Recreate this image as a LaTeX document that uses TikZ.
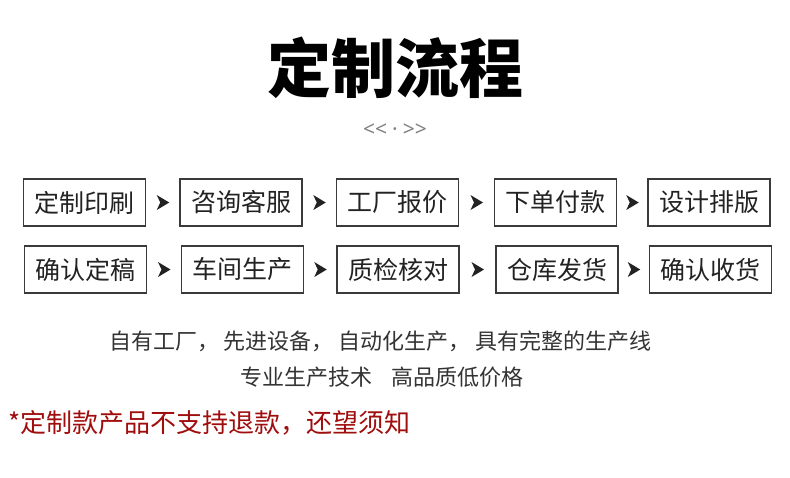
\documentclass[tikz,border=0pt]{standalone}
\usepackage{fontspec}
\setmainfont{Noto Sans CJK SC}
\newfontfamily\latinsans{Noto Sans}
\usetikzlibrary{calc}
\definecolor{boxline}{HTML}{3A3A3A}
\definecolor{boxtext}{HTML}{222222}
\definecolor{bodytext}{HTML}{333333}
\definecolor{subgray}{HTML}{808080}
\definecolor{warnred}{HTML}{A00D0D}
\newcommand\flowarrow[2]{\fill[boxtext] ($(#1.east)!0.5!(#2.west)$) +(6.5,0) -- +(-6,-7.5) -- +(-2.5,0) -- +(-6,7.5) -- cycle;}
\begin{document}
\begin{tikzpicture}[x=1pt,y=-1pt,
  stepbox/.style={draw=boxline, line width=1.4pt, minimum width=122pt, minimum height=47pt, inner sep=0pt, font=\fontsize{25}{25}\selectfont, text=boxtext},
  bodyline/.style={font=\fontsize{22}{22}\selectfont, text=bodytext, inner sep=0pt},
]
\useasboundingbox (0,0) rectangle (790,477);
\node[font=\fontsize{64}{64}\selectfont\bfseries, inner sep=0pt] (title) at (395,68) {定制流程};
\node[font=\fontsize{21}{21}\latinsans, text=subgray, inner sep=0pt] (sub) at (395,130) {{<}{<}\hspace{5pt}·\hspace{5pt}{>}{>}};
% row 1
\node[stepbox] (a1) at (84.5,202.5) {定制印刷};
\node[stepbox] (a2) at (241,202.5) {咨询客服};
\node[stepbox] (a3) at (397.5,202.5) {工厂报价};
\node[stepbox] (a4) at (555.5,202.5) {下单付款};
\node[stepbox] (a5) at (709,202.5) {设计排版};
% row 2
\node[stepbox] (b1) at (85.5,269.5) {确认定稿};
\node[stepbox] (b2) at (242.5,269.5) {车间生产};
\node[stepbox] (b3) at (398,269.5) {质检核对};
\node[stepbox] (b4) at (557,269.5) {仓库发货};
\node[stepbox] (b5) at (710.5,269.5) {确认收货};
\flowarrow{a1}{a2}
\flowarrow{a2}{a3}
\flowarrow{a3}{a4}
\flowarrow{a4}{a5}
\flowarrow{b1}{b2}
\flowarrow{b2}{b3}
\flowarrow{b3}{b4}
\flowarrow{b4}{b5}
\node[bodyline] (l1) at (380.5,341) {自有工厂，\hspace{5pt}先进设备，\hspace{5pt}自动化生产，\hspace{5pt}具有完整的生产线};
\node[bodyline] (l2) at (382,377) {专业生产技术\hspace{20pt}高品质低价格};
\node[font=\fontsize{26}{26}\selectfont, text=warnred, inner sep=0pt, anchor=west] (warn) at (8,423) {*定制款产品不支持退款，还望须知};
\end{tikzpicture}
\end{document}
